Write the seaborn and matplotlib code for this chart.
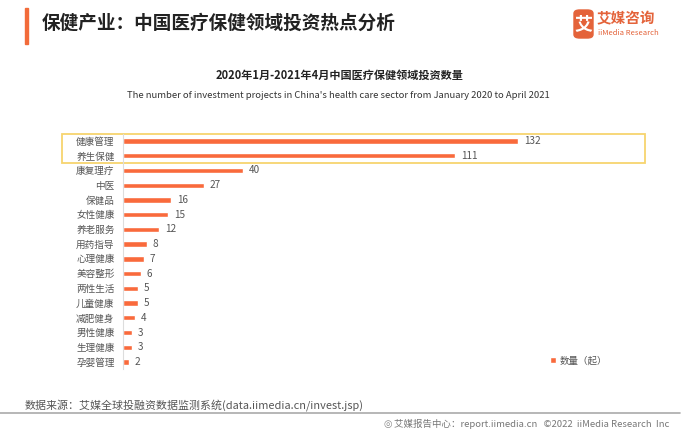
"""
保健产业：中国医疗保健领域投资热点分析 - horizontal bar chart
"""
import matplotlib
matplotlib.use('Agg')
import matplotlib.pyplot as plt
from matplotlib.patches import Rectangle, FancyBboxPatch
from matplotlib.lines import Line2D
import seaborn as sns
import pandas as pd

categories = ['健康管理', '养生保健', '康复理疗', '中医', '保健品', '女性健康', '养老服务', '用药指导',
              '心理健康', '美容整形', '两性生活', '儿童健康', '减肥健身', '男性健康', '生理健康', '孕婴管理']
counts = [132, 111, 40, 27, 16, 15, 12, 8, 7, 6, 5, 5, 4, 3, 3, 2]

title = '保健产业：中国医疗保健领域投资热点分析'
subtitle_cn = '2020年1月-2021年4月中国医疗保健领域投资数量'
subtitle_en = "The number of investment projects in China's health care sector from January 2020 to April 2021"
legend_label = '数量（起）'
source = '数据来源：艾媒全球投融资数据监测系统(data.iimedia.cn/invest.jsp)'
footer = '艾媒报告中心：report.iimedia.cn   ©2022  iiMedia Research  Inc'

BAR = '#F96A3C'
W, H = 693, 437

sns.set_theme(style='white')
plt.rcParams['font.family'] = ['Noto Sans CJK SC', 'DejaVu Sans']

df = pd.DataFrame({'category': categories, 'count': counts})

fig = plt.figure(figsize=(W / 100, H / 100), dpi=100)


def px(x, y):
    # pixel coords (top-left origin) to figure fraction
    return x / W, 1 - y / H


# axes placed in pixels: bars start at x=123, rows from y=141 to y=362
row = (362 - 141) / 15
ax_left, ax_right = 123, 683
ax_top, ax_bot = 141 - row / 2, 362 + row / 2
ax = fig.add_axes([ax_left / W, 1 - ax_bot / H, (ax_right - ax_left) / W, (ax_bot - ax_top) / H])

sns.barplot(data=df, x='count', y='category', orient='h', color=BAR, width=0.36,
            saturation=1, ax=ax, label=legend_label)
ax.set_xlim(0, (ax_right - ax_left) / 2.99)
ax.set_ylim(len(categories) - 0.5, -0.5)
ax.set_xlabel('')
ax.set_ylabel('')
ax.set_xticks([])
ax.tick_params(axis='y', length=0, pad=6, labelsize=6.9, labelcolor='#555555')
for s in ['top', 'right', 'bottom']:
    ax.spines[s].set_visible(False)
ax.spines['left'].set_color('#DDDDDD')
ax.spines['left'].set_linewidth(0.8)

for i, v in enumerate(counts):
    ax.text(v + 2, i, str(v), va='center', ha='left', fontsize=7.2, color='#555555')

# highlight box around top two rows
ax.add_patch(Rectangle((-20.4, -0.475), 195, 1.965, fill=False, edgecolor='#F7D46E',
                       linewidth=1.3, clip_on=False))

ax.legend(loc='lower right', bbox_to_anchor=(0.88, -0.02), frameon=False, fontsize=6.8,
          handlelength=0.6, handleheight=0.6, handletextpad=0.4, labelcolor='#555555')

# header
fig.patches.append(Rectangle(px(25, 44), 3 / W, 36 / H, transform=fig.transFigure,
                             color='#F26B3A'))
fig.text(*px(42, 23), title, fontsize=13.4, fontweight='bold', color='#222222', va='center')

# logo
fig.patches.append(FancyBboxPatch(px(574, 38), 19 / W, 28 / H, transform=fig.transFigure,
                                  boxstyle='round,pad=0,rounding_size=0.008', color='#E4633A'))
fig.text(*px(583.5, 24), '艾', fontsize=13, fontweight='bold', color='white', ha='center', va='center')
fig.text(*px(597, 18), '艾媒咨询', fontsize=10.5, fontweight='bold', color='#E4633A', va='center')
fig.text(*px(598, 33), 'iiMedia Research', fontsize=5.5, color='#E4633A', va='center')

# chart titles
fig.text(*px(340, 75), subtitle_cn, fontsize=8, fontweight='bold', color='#222222',
         ha='center', va='center')
fig.text(*px(338, 96), subtitle_en, fontsize=6.8, color='#333333', ha='center', va='center')

# footer
fig.text(*px(25, 405), source, fontsize=7.9, color='#555555', va='center')
fig.add_artist(Line2D([0, 680 / W], [1 - 413 / H] * 2, transform=fig.transFigure,
                      color='#AAAAAA', linewidth=1.2))
fig.text(*px(384, 424), '\u25CE', fontsize=7, color='#888888', va='center', family=['DejaVu Sans'])
fig.text(*px(394, 424), footer, fontsize=6.8, color='#777777', va='center')

plt.savefig('out.png', dpi=100)
plt.close()
